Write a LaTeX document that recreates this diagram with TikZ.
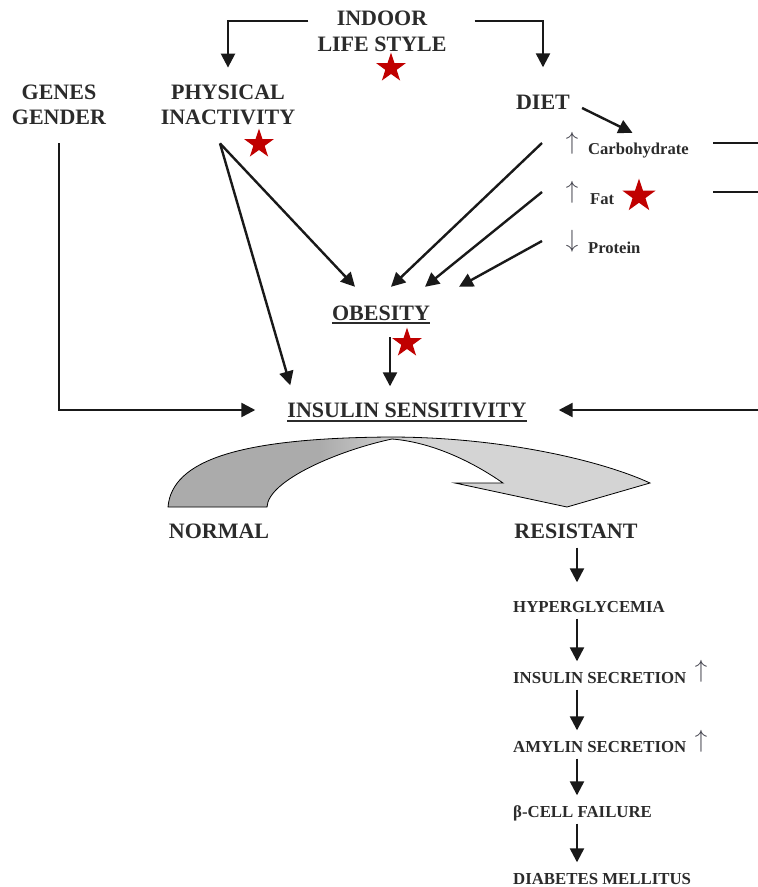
\documentclass[tikz,border=0pt]{standalone}
\usepackage{fontspec}
\setmainfont{Liberation Serif}
\usetikzlibrary{arrows.meta,shapes.geometric}
\definecolor{ink}{HTML}{2B2B2B}
\definecolor{starred}{HTML}{C00000}
\definecolor{upgray}{HTML}{45454F}
\definecolor{bowdark}{HTML}{ABABAB}
\definecolor{bowlight}{HTML}{D4D4D4}
\tikzset{
	big/.style={font=\fontsize{22}{25.5}\selectfont\bfseries,text=ink,inner sep=0pt},
	flat/.style={text height=15pt,text depth=0pt},
	small/.style={font=\fontsize{16.6}{18}\selectfont\bfseries,text=ink,inner sep=0pt,anchor=west,text height=11pt,text depth=3pt},
	chain/.style={font=\fontsize{16.8}{18}\selectfont\bfseries,text=ink,inner sep=0pt,anchor=west,text height=11pt,text depth=0pt},
	arr/.style={-{Triangle[length=14pt,width=14pt]},line width=2.4pt,draw=black!90},
	plain/.style={line width=2.2pt,draw=black!90},
	redstar/.style={star,star points=5,star point ratio=2.6,fill=starred,inner sep=0pt,minimum size=31pt},
	updown/.style={font=\fontsize{30}{30}\selectfont,text=upgray,inner sep=0pt},
	uline/.style={line width=1.6pt,draw=ink}
}
\begin{document}
\begin{tikzpicture}[x=1pt,y=-1pt]
	\useasboundingbox (0,0) rectangle (758,887);
	% causes
	\node[big,align=center] (indoor) at (382,31.5) {INDOOR\\LIFE STYLE};
	\node[big,align=center] (genes) at (59,105) {GENES\\GENDER};
	\node[big,align=center] (phys) at (228,105) {PHYSICAL\\INACTIVITY};
	\node[big,flat] (diet) at (543,102) {DIET};
	\node[updown] (carbup) at (572,143) {$\uparrow$};
	\node[updown] (fatup) at (572,192) {$\uparrow$};
	\node[updown] (protdown) at (572,241) {$\downarrow$};
	\node[small] (carb) at (588,150) {Carbohydrate};
	\node[small] (fat) at (590,200) {Fat};
	\node[small] (prot) at (588,249) {Protein};
	\node[big,flat] (obes) at (381,312.5) {OBESITY};
	\node[big,flat] (ins) at (407,410) {INSULIN SENSITIVITY};
	\node[big,flat] (normal) at (219,531) {NORMAL};
	\node[big,flat] (res) at (576,531) {RESISTANT};
	% stars
	\node[redstar] (s1) at (391,68) {};
	\node[redstar] (s2) at (259,144) {};
	\node[redstar,minimum size=35pt] (s3) at (639,196) {};
	\node[redstar] (s4) at (407,343) {};
	% consequences
	\node[chain] (hyp) at (513,607) {HYPERGLYCEMIA};
	\node[chain] (insec) at (513,678) {INSULIN SECRETION};
	\node[chain] (amy) at (513,747) {AMYLIN SECRETION};
	\node[chain] (beta) at (513,812) {β-CELL FAILURE};
	\node[chain] (dm) at (513,879) {DIABETES MELLITUS};
	\node[updown] (insup) at (701,671) {$\uparrow$};
	\node[updown] (amyup) at (701,741) {$\uparrow$};
	\coordinate (redge) at (758,410);
	\coordinate (cedge) at (758,143);
	\coordinate (fedge) at (758,192);
	\coordinate (pstart) at ([xshift=-8pt,yshift=-18pt]phys.south);
	% underlines
	\draw[uline] ([yshift=-3pt]obes.south west) -- ([yshift=-3pt]obes.south east);
	\draw[uline] ([yshift=-3pt]ins.south west) -- ([yshift=-3pt]ins.south east);
	% arrows
	\draw[arr] ([xshift=-9pt,yshift=-10pt]indoor.north west) -| ([yshift=17pt]phys.north);
	\draw[arr] ([xshift=28pt,yshift=-10pt]indoor.north east) -| ([yshift=27pt]diet.north);
	\draw[arr] ([xshift=12pt,yshift=-6pt]diet.east) -- ([xshift=-6pt,yshift=10pt]carb.north);
	\draw[arr] (pstart) -- ([xshift=-26pt,yshift=18pt]obes.north);
	\draw[arr] (pstart) -- ([xshift=3pt,yshift=17pt]ins.north west);
	\draw[arr] ([xshift=-30pt]carbup.center) -- ([xshift=10pt,yshift=18pt]obes.north);
	\draw[arr] ([xshift=-30pt]fatup.center) -- ([xshift=44pt,yshift=18pt]obes.north);
	\draw[arr] ([xshift=-30pt]protdown.center) -- ([xshift=78pt,yshift=18pt]obes.north);
	\draw[plain] ([xshift=141pt]carbup.center) -- (cedge);
	\draw[plain] ([xshift=141pt]fatup.center) -- (fedge);
	\draw[arr] ([xshift=9pt,yshift=-17pt]obes.south) -- ([xshift=-17pt,yshift=16pt]ins.north);
	\draw[arr] ([yshift=-18pt]genes.south) |- ([xshift=-32pt]ins.west);
	\draw[arr] (redge) -- ([xshift=32pt]ins.east);
	\draw[arr] ([xshift=1pt,yshift=-9pt]res.south) -- ([xshift=64pt,yshift=19pt]hyp.north west);
	\foreach \a/\b in {hyp/insec,insec/amy,amy/beta,beta/dm}
		\draw[arr] ([xshift=64pt,yshift=-6pt]\a.south west) -- ([xshift=64pt,yshift=11pt]\b.north west);
	% bent arrow
	\def\bow{(168,507) .. controls (172,460) and (240,438) .. (390,437)
		.. controls (500,437) and (600,460) .. (650,483) -- (567,507) -- (455,483) -- (503,483)
		.. controls (470,460) and (430,442) .. (392,439)
		.. controls (340,450) and (268,480) .. (267,507) -- cycle}
	\begin{scope}
		\clip \bow;
		\fill[bowlight] (160,430) rectangle (660,510);
		\fill[bowdark] (160,430) rectangle (320,510);
		\shade[left color=bowdark,right color=bowlight] (319,430) rectangle (410,510);
	\end{scope}
	\draw[line width=0.8pt] \bow;
\end{tikzpicture}
\end{document}
